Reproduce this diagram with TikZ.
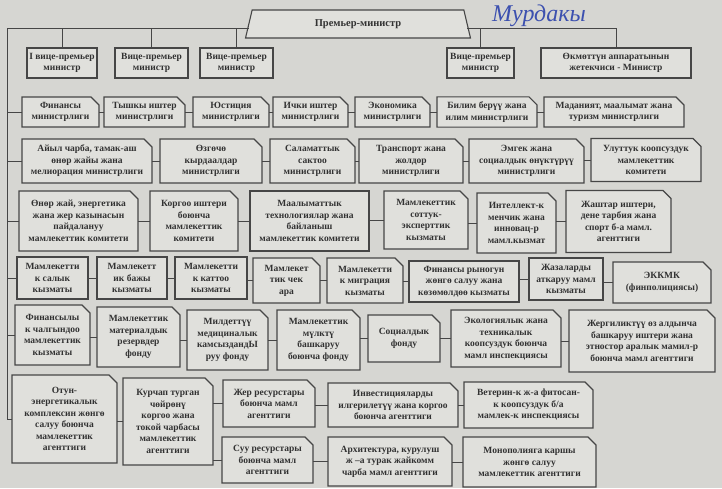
\documentclass[tikz,border=0pt]{standalone}
\usepackage{fontspec}
\setmainfont{Liberation Serif}
\usetikzlibrary{shapes.geometric, shapes.misc}

\definecolor{paper}{RGB}{214,214,210}
\definecolor{boxfill}{RGB}{224,224,220}
\definecolor{edge}{RGB}{70,70,70}
\definecolor{ink}{RGB}{50,50,50}
\definecolor{pen}{RGB}{60,80,175}

\begin{document}
\begin{tikzpicture}[
	x=1pt, y=-1pt,
	every node/.style = {font=\bfseries\fontsize{9.5}{11.5}\selectfont, text=ink, align=center, inner sep=1pt, outer sep=0pt},
	post/.style = {draw=edge, line width=1.1pt, fill=boxfill, rectangle},
	body/.style = {post, chamfered rectangle, chamfered rectangle corners=north east, chamfered rectangle sep=4pt},
	sz/.style 2 args = {minimum width=#1pt, minimum height=#2pt},
	link/.style = {draw=edge, line width=0.8pt}
]
\useasboundingbox (0,0) rectangle (722,488);
\fill[paper] (0,0) rectangle (722,488);

% head
\node[post, trapezium, trapezium angle=76, trapezium stretches=true, sz={226}{28}, font=\bfseries\fontsize{10.5}{12}\selectfont] (pm) at (358,24) {Премьер-министр};
\node[font=\itshape\fontsize{24}{24}\selectfont, text=pen] (note) at (539,16) {Мурдакы};

\node[post, sz={70}{30}] (vp1) at (62,63) {I вице-премьер\\министр};
\node[post, sz={73}{30}] (vp2) at (151.5,63) {Вице-премьер\\министр};
\node[post, sz={73}{30}] (vp3) at (236.5,63) {Вице-премьер\\министр};
\node[post, sz={67}{30}] (vp4) at (480.5,63) {Вице-премьер\\министр};
\node[post, sz={150}{30}] (gov) at (616,63) {Өкмөттүн аппаратынын\\жетекчиси - Министр};

% ministries
\node[body, sz={77}{30}] (fin) at (60.5,112) {Финансы\\министрлиги};
\node[body, sz={81}{30}] (mfa) at (144.5,112) {Тышкы иштер\\министрлиги};
\node[body, sz={76}{30}] (just) at (231,112) {Юстиция\\министрлиги};
\node[body, sz={75}{30}] (mvd) at (310.5,112) {Ички иштер\\министрлиги};
\node[body, sz={75}{30}] (econ) at (392.5,112) {Экономика\\министрлиги};
\node[body, sz={100}{30}] (edu) at (487,112) {Билим берүү жана\\илим министрлиги};
\node[body, sz={140}{30}] (cult) at (614,112) {Маданият, маалымат жана\\туризм министрлиги};

\node[body, sz={130}{44}] (agri) at (87,161) {Айыл чарба, тамак-аш\\өнөр жайы жана\\мелиорация министрлиги};
\node[body, sz={102}{44}] (emer) at (211,161) {Өзгөчө\\кырдаалдар\\министрлиги};
\node[body, sz={85}{44}] (health) at (312.5,161) {Саламаттык\\сактоо\\министрлиги};
\node[body, sz={104}{44}] (trans) at (411,161) {Транспорт жана\\жолдор\\министрлиги};
\node[body, sz={115}{44}] (labor) at (526.5,161) {Эмгек жана\\социалдык өнүктүрүү\\министрлиги};
\node[body, sz={110}{43}] (secur) at (646,160) {Улуттук коопсуздук\\мамлекеттик\\комитети};

% committees and services
\node[body, sz={119}{60}] (energy) at (78.5,221) {Өнөр жай, энергетика\\жана жер казынасын\\пайдалануу\\мамлекеттик комитети};
\node[body, sz={88}{60}] (defn) at (194,221) {Коргоо иштери\\боюнча\\мамлекеттик\\комитети};
\node[post, sz={119}{60}] (ict) at (309.5,221) {Маалыматтык\\технологиялар жана\\байланыш\\мамлекеттик комитети};
\node[body, sz={84}{58}] (expert) at (426,220) {Мамлекеттик\\соттук-\\эксперттик\\кызматы};
\node[body, sz={79}{60}] (intel) at (516.5,223) {Интеллект-к\\менчик жана\\инновац-р\\мамл.кызмат};
\node[body, sz={105}{62}] (youth) at (618.5,221.5) {Жаштар иштери,\\дене тарбия жана\\спорт б-а мамл.\\агенттиги};

\node[post, sz={71}{42}] (tax) at (52.5,278) {Мамлекетти\\к салык\\кызматы};
\node[post, sz={70}{42}] (cust) at (132,278) {Мамлекетт\\ик бажы\\кызматы};
\node[post, sz={72}{42}] (reg) at (211,278) {Мамлекетти\\к каттоо\\кызматы};
\node[body, sz={67}{45}] (border) at (286.5,280.5) {Мамлекет\\тик чек\\ара};
\node[body, sz={76}{45}] (migr) at (365,280.5) {Мамлекетти\\к миграция\\кызматы};
\node[post, sz={110}{41}] (finmkt) at (464,281.5) {Финансы рыногун\\жөнгө салуу жана\\көзөмөлдөө кызматы};
\node[post, sz={74}{42}] (pen) at (566,279) {Жазаларды\\аткаруу мамл\\кызматы};
\node[body, sz={98}{41}] (ekkmk) at (662,282.5) {ЭККМК\\(финполициясы)};

\node[body, sz={75}{60}] (finint) at (52.5,335) {Финансылы\\к чалгындоо\\мамлекеттик\\кызматы};
\node[body, sz={83}{60}] (reserv) at (138.5,337) {Мамлекеттик\\материалдык\\резервдер\\фонду};
\node[body, sz={81}{60}] (medins) at (227.5,340) {Милдеттүү\\медициналык\\камсыздандЫ\\руу фонду};
\node[body, sz={83}{60}] (propf) at (318.5,340) {Мамлекеттик\\мүлктү\\башкаруу\\боюнча фонду};
\node[body, sz={72}{47}] (social) at (404,338.5) {Социалдык\\фонду};
\node[body, sz={110}{57}] (eco) at (506,338.5) {Экологиялык жана\\техникалык\\коопсуздук боюнча\\мамл инспекциясы};
\node[body, sz={146}{62}] (local) at (642,341) {Жергиликтүү өз алдынча\\башкаруу иштери жана\\этностор аралык мамил-р\\боюнча мамл агенттиги};

% agencies
\node[body, sz={105}{88}] (fuel) at (64.5,419) {Отун-\\энергетикалык\\комплексин жөнгө\\салуу боюнча\\мамлекеттик\\агенттиги};
\node[body, sz={90}{87}] (envir) at (168,421.5) {Курчап турган\\чөйрөнү\\коргоо жана\\токой чарбасы\\мамлекеттик\\агенттиги};
\node[body, sz={92}{47}] (land) at (269,403.5) {Жер ресурстары\\боюнча мамл\\агенттиги};
\node[body, sz={91}{46}] (water) at (267.5,460) {Суу ресурстары\\боюнча мамл\\агенттиги};
\node[body, sz={130}{44}] (invest) at (393,405) {Инвестицияларды\\илгерилетүү жана коргоо\\боюнча агенттиги};
\node[body, sz={124}{49}] (arch) at (390,461.5) {Архитектура, курулуш\\ж –а турак жайкомм\\чарба мамл агенттиги};
\node[body, sz={129}{46}] (vet) at (528.5,405) {Ветерин-к ж-а фитосан-\\к коопсуздук б/а\\мамлек-к инспекциясы};
\node[body, sz={133}{50}] (mono) at (529.5,462) {Монополияга каршы\\жөнгө салуу\\мамлекеттик агенттиги};

% lines
\coordinate (bus) at (7,28);
\draw[link] (bus) -- (bus -| pm.west);
\draw[link] (bus -| pm.east) -| (gov.north);
\foreach \v in {vp1, vp2, vp3, vp4}
	\draw[link] (\v.north) -- (\v.north |- bus);
\draw[link] (bus) |- (fuel.west);
\foreach \f in {fin, agri, energy, tax, finint}
	\draw[link] (\f.west) -- (\f.west -| bus);
\foreach \a/\b in {fin/mfa, mfa/just, just/mvd, mvd/econ, econ/edu, edu/cult,
		agri/emer, emer/health, health/trans, trans/labor, labor/secur,
		energy/defn, defn/ict, ict/expert, expert/intel, intel/youth,
		tax/cust, cust/reg, reg/border, border/migr, migr/finmkt, finmkt/pen, pen/ekkmk,
		finint/reserv, reserv/medins, medins/propf, propf/social, social/eco, eco/local,
		fuel/envir, envir/land, envir/water, land/invest, invest/vet, water/arch, arch/mono}
	\draw[link] (\b.west) -- (\b.west -| \a.east);

\end{tikzpicture}
\end{document}
